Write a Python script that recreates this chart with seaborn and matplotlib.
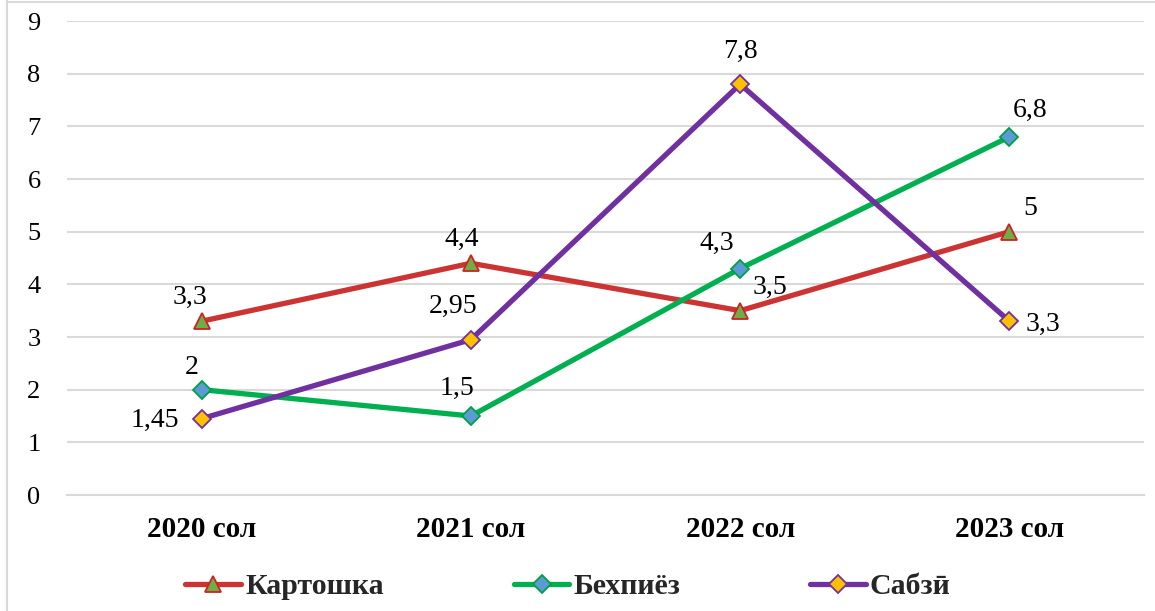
import matplotlib
matplotlib.use("Agg")
import matplotlib.pyplot as plt
import seaborn as sns
import pandas as pd
from matplotlib.lines import Line2D

years = ["2020 сол", "2021 сол", "2022 сол", "2023 сол"]
series_names = ["Картошка", "Бехпиёз", "Сабзӣ"]
kartoshka = [3.3, 4.4, 3.5, 5.0]
behpiyoz = [2.0, 1.5, 4.3, 6.8]
sabzi = [1.45, 2.95, 7.8, 3.3]
labels_k = ["3,3", "4,4", "3,5", "5"]
labels_b = ["2", "1,5", "4,3", "6,8"]
labels_s = ["1,45", "2,95", "7,8", "3,3"]
y_ticks = [0, 1, 2, 3, 4, 5, 6, 7, 8, 9]

sns.set_theme(style="white")
plt.rcParams["font.family"] = ["Liberation Serif", "DejaVu Serif"]

fig = plt.figure(figsize=(11.55, 6.11), dpi=100)
ax = fig.add_axes([67/1155, (611-495)/611, (1144-67)/1155, (495-21)/611])

rows = []
for name, vals in zip(series_names, [kartoshka, behpiyoz, sabzi]):
    for i, v in enumerate(vals):
        rows.append({"year": i, "series": name, "value": v})
df = pd.DataFrame(rows)

styles = {
    "Картошка": dict(color="#CC3333", marker="^", mfc="#70AD47", mec="#CC2222", ms=12),
    "Бехпиёз": dict(color="#00B050", marker="D", mfc="#5B9BD5", mec="#00A040", ms=9),
    "Сабзӣ": dict(color="#7030A0", marker="D", mfc="#FFC000", mec="#7030A0", ms=9),
}

for name in series_names:
    st = styles[name]
    sub = df[df["series"] == name]
    sns.lineplot(data=sub, x="year", y="value", ax=ax, color=st["color"], linewidth=3.8,
                 marker=st["marker"], markersize=st["ms"], markerfacecolor=st["mfc"],
                 markeredgecolor=st["mec"], markeredgewidth=1.3, legend=False, zorder=3)

# data label offsets in pixels (dx, visual-centre dy up)
offs_k = [(-12, 27), (-9, 27), (30, 26), (21, 26)]
offs_b = [(-10, 25), (-14, 31), (-23, 28), (21, 29)]
offs_s = [(-47, 1), (-18, 36), (0, 36), (34, 0)]
for vals, labs, offs in [(kartoshka, labels_k, offs_k), (behpiyoz, labels_b, offs_b), (sabzi, labels_s, offs_s)]:
    for i, (v, l, o) in enumerate(zip(vals, labs, offs)):
        ax.annotate(l, (i, v), xytext=(o[0], o[1] - 9.5), textcoords="offset pixels",
                    ha="center", va="baseline", fontsize=20, color="black", zorder=4)

ax.set_xlim(-0.5, 3.5)
ax.set_ylim(0, 9)
ax.set_yticks(y_ticks)
ax.set_yticklabels([str(t) for t in y_ticks], fontsize=19)
ax.set_xticks(range(len(years)))
ax.set_xticklabels(years, fontsize=21, fontweight="bold")
ax.tick_params(axis="y", length=0, pad=19, colors="black")
ax.tick_params(axis="x", length=0, pad=15, colors="black")
ax.yaxis.grid(True, color="#D9D9D9", linewidth=1.5)
ax.xaxis.grid(False)
for s in ["top", "right", "left"]:
    ax.spines[s].set_visible(False)
ax.spines["bottom"].set_color("#D9D9D9")
ax.spines["bottom"].set_linewidth(1.5)
ax.set_xlabel("")
ax.set_ylabel("")
ax.set_axisbelow(True)

handles = []
for name in series_names:
    st = styles[name]
    handles.append(Line2D([], [], color=st["color"], linewidth=3.8, marker=st["marker"],
                          markersize=st["ms"], markerfacecolor=st["mfc"], markeredgecolor=st["mec"],
                          markeredgewidth=1.3))
leg = fig.legend(handles, series_names, loc="center", bbox_to_anchor=(568/1155, 1 - 587/611), ncol=3,
                 frameon=False, prop={"size": 21.5, "weight": "bold"}, handlelength=1.87,
                 columnspacing=4.35, handletextpad=0.13, borderpad=0)

# outer frame lines
fig.add_artist(Line2D([7/1155, 7/1155], [0, 1], transform=fig.transFigure, color="#D9D9D9", linewidth=1.5))
fig.add_artist(Line2D([7/1155, 1], [1 - 2/611, 1 - 2/611], transform=fig.transFigure, color="#D9D9D9", linewidth=1.5))

fig.savefig("out.png", dpi=100, facecolor="white")
